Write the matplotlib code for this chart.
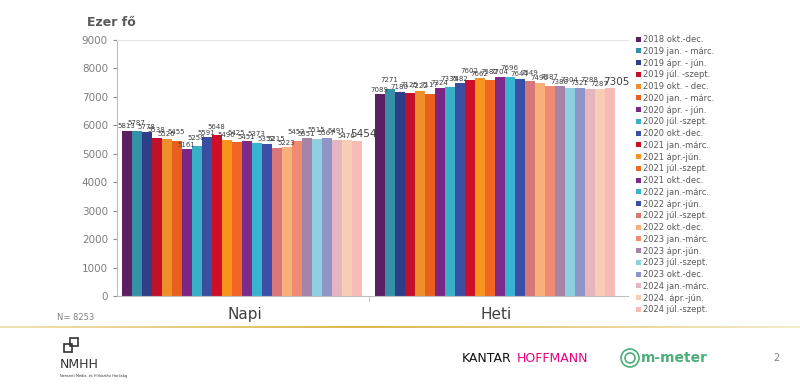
import numpy as np
import matplotlib
matplotlib.use("Agg")
import matplotlib.pyplot as plt
from matplotlib.patches import Rectangle, Circle

# categories and periods
groups = ["Napi", "Heti"]
periods = ["2018 okt.-dec.", "2019 jan. - márc.", "2019 ápr. - jún.", "2019 júl. -szept.",
           "2019 okt. - dec.", "2020 jan. - márc.", "2020 ápr. - jún.", "2020 júl.-szept.",
           "2020 okt.-dec.", "2021 jan.-márc.", "2021 ápr.-jún.", "2021 júl.-szept.",
           "2021 okt.-dec.", "2022 jan.-márc.", "2022 ápr.-jún.", "2022 júl.-szept.",
           "2022 okt.-dec.", "2023 jan.-márc.", "2023 ápr.-jún.", "2023 júl.-szept.",
           "2023 okt.-dec.", "2024 jan.-márc.", "2024. ápr.-jún.", "2024 júl.-szept."]
napi = [5813, 5787, 5778, 5538, 5526, 5455, 5161, 5258, 5591, 5648, 5490, 5425,
        5451, 5373, 5352, 5215, 5223, 5452, 5551, 5515, 5567, 5491, 5476, 5454]
heti = [7089, 7271, 7180, 7125, 7222, 7117, 7324, 7335, 7482, 7602, 7662, 7582,
        7704, 7696, 7644, 7549, 7496, 7387, 7380, 7304, 7321, 7288, 7287, 7305]
colors = ["#5c1f62", "#3591a8", "#2e3f87", "#c0102a", "#ef8f2c", "#e8601c",
          "#7b2585", "#3aafc8", "#3a4fa0", "#cf0f2a", "#f7941d", "#f26522",
          "#7e2a8a", "#38b3d0", "#3c4fa8", "#d7777a", "#f8b07a", "#f08a70",
          "#a584a8", "#8ecfe0", "#9095c8", "#e6b6c0", "#f9cdb3", "#f7bcb8"]

fig = plt.figure(figsize=(8, 3.84), dpi=100)
ax = fig.add_axes([117/800, 1-296/384, 511/800, 256/384])

n = len(periods)
w = 10/255.5
x = np.array([-0.012, 0.978])
for i in range(n):
    pos = x - w*n/2 + w*(i+0.5)
    vals = [napi[i], heti[i]]
    ax.bar(pos, vals, width=w, color=colors[i], label=periods[i])
    for p, v in zip(pos, vals):
        big = i == n-1
        dy = 60 if big else (50 + 150*(i % 2))
        ax.text(p + (0.025 if big else 0), v + dy, str(v), ha="center", va="bottom",
                fontsize=7.5 if big else 5.0, color="#404040")

ax.set_xlim(-0.5, 1.5)
ax.set_ylim(0, 9000)
ax.set_yticks(range(0, 9001, 1000))
ax.tick_params(axis="y", labelsize=7.5, colors="#8c8c8c", length=3, labelcolor="#7f7f7f")
ax.set_xticks([0, 0.985])
ax.set_xticklabels(groups, fontsize=11, color="#404040")
ax.tick_params(axis="x", length=0, pad=8)
ax.set_xticks([0.485], minor=True)
ax.tick_params(axis="x", which="minor", length=4, color="#bfbfbf")
for s in ["left", "bottom"]:
    ax.spines[s].set_color("#bfbfbf")
ax.spines["top"].set_color("#e6e6e6")
ax.spines["right"].set_visible(False)

fig.text(87/800, 1-22/384, "Ezer fő", fontsize=9, fontweight="bold", color="#595959", va="center")

leg = ax.legend(loc="upper left", bbox_to_anchor=(632/800, 1-31/384), bbox_transform=fig.transFigure,
                frameon=False, fontsize=6.0, handlelength=0.55, handleheight=0.55,
                handletextpad=0.3, labelspacing=0.33, borderpad=0)
for t in leg.get_texts():
    t.set_color("#595959")

fig.text(57/800, 1-318/384, "N= 8253", fontsize=6, color="#7f7f7f", va="center")

# gold separator line
gax = fig.add_axes([0, 1-328/384, 1, 2.5/384])
grad = np.linspace(0, 1, 256)
alpha = np.clip(1 - np.abs(grad - 0.45)*1.3, 0.25, 1)
img = np.zeros((1, 256, 4))
img[0, :, 0] = 0.87
img[0, :, 1] = 0.72
img[0, :, 2] = 0.30
img[0, :, 3] = alpha
gax.imshow(img, aspect="auto")
gax.axis("off")

# footer logos
lax = fig.add_axes([0, 0, 1, 1], facecolor="none")
lax.set_xlim(0, 800)
lax.set_ylim(384, 0)
lax.axis("off")
lax.add_patch(Rectangle((64, 344), 8, 8, fill=False, ec="#333333", lw=1.2))
lax.add_patch(Rectangle((70, 338), 8, 8, fill=False, ec="#333333", lw=1.2))
lax.text(60, 364, "NMHH", fontsize=9, color="#333333", va="center", ha="left")
lax.text(60, 376, "Nemzeti Média- és Hírközlési Hatóság", fontsize=2.5, color="#333333", va="center")
lax.text(462, 359, "KANTAR", fontsize=9, color="#111111", va="center", ha="left")
lax.text(517, 359, "HOFFMANN", fontsize=9, color="#e6007e", va="center", ha="left")
lax.add_patch(Circle((630, 358), 9, fill=False, ec="#4caf7a", lw=1.2))
lax.add_patch(Circle((630, 358), 5, fill=False, ec="#4caf7a", lw=1.2))
lax.text(641, 358, "m-meter", fontsize=10, fontweight="bold", color="#4caf7a", va="center")
lax.text(773, 358, "2", fontsize=7, color="#7f7f7f", va="center")

fig.savefig("out.png", dpi=100)
